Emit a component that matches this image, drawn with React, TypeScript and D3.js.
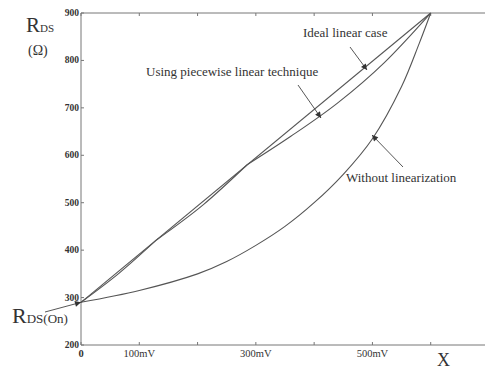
import React, { useEffect, useRef } from "react";
import * as d3 from "d3";

// x in mV, y in ohms
const idealX = [0, 600];
const idealY = [290, 900];

const piecewiseX = [0, 65, 130, 210, 285, 360, 440, 520, 600];
const piecewiseY = [290, 351, 422, 496, 580, 640, 710, 795, 900];
const breakpoints = [0, 130, 285, 600];

const withoutX = [0, 100, 200, 250, 300, 350, 400, 450, 500, 550, 580, 600];
const withoutY = [290, 315, 350, 376, 410, 450, 500, 560, 635, 745, 835, 900];

const yTicks = [200, 300, 400, 500, 600, 700, 800, 900];
const xTicks = [0, 100, 200, 300, 400, 500, 600];
const xTickLabels = ["0", "100mV", "", "300mV", "", "500mV", ""];

const W = 485;
const H = 371;
const SERIF = "'Liberation Serif', 'Times New Roman', Times, serif";

const App = () => {
  const ref = useRef<SVGSVGElement>(null);

  useEffect(() => {
    const svg = d3.select(ref.current);
    svg.selectAll("*").remove();

    const x = d3.scaleLinear().domain([0, 700]).range([81, 489]);
    const y = d3.scaleLinear().domain([200, 900]).range([345, 13]);
    const ink = "#555";
    const txt = "#333";

    const defs = svg.append("defs");
    defs
      .append("marker")
      .attr("id", "arr")
      .attr("viewBox", "0 0 10 10")
      .attr("refX", 10)
      .attr("refY", 5)
      .attr("markerWidth", 7)
      .attr("markerHeight", 6)
      .attr("markerUnits", "userSpaceOnUse")
      .attr("orient", "auto")
      .append("path")
      .attr("d", "M0,0 L10,5 L0,10 z")
      .attr("fill", "#333");

    // axes frame
    const frame = svg.append("g").attr("stroke", "#777").attr("stroke-width", 1);
    frame.append("line").attr("x1", 81).attr("x2", W).attr("y1", y(200)).attr("y2", y(200));
    frame.append("line").attr("x1", 81).attr("x2", W).attr("y1", y(900)).attr("y2", y(900));
    frame.append("line").attr("x1", 81).attr("x2", 81).attr("y1", y(200)).attr("y2", y(900));

    // ticks
    const tg = svg.append("g").attr("stroke", "#777");
    yTicks.forEach((t) => {
      tg.append("line").attr("x1", 81).attr("x2", 84).attr("y1", y(t)).attr("y2", y(t));
    });
    xTicks.forEach((t) => {
      tg.append("line").attr("x1", x(t)).attr("x2", x(t)).attr("y1", y(200)).attr("y2", y(200) - 3);
      tg.append("line").attr("x1", x(t)).attr("x2", x(t)).attr("y1", y(900)).attr("y2", y(900) + 3);
    });

    svg
      .append("g")
      .selectAll("text")
      .data(yTicks)
      .enter()
      .append("text")
      .attr("x", 79)
      .attr("y", (d) => y(d) + 3)
      .attr("text-anchor", "end")
      .attr("font-family", SERIF)
      .attr("font-weight", "bold")
      .attr("font-size", 9.5)
      .attr("fill", txt)
      .text((d) => d);

    svg
      .append("g")
      .selectAll("text")
      .data(xTicks)
      .enter()
      .append("text")
      .attr("x", (d) => x(d))
      .attr("y", 357)
      .attr("text-anchor", "middle")
      .attr("font-family", SERIF)
      .attr("font-weight", (d, i) => (i === 0 ? "bold" : "normal"))
      .attr("font-size", 10.5)
      .attr("fill", txt)
      .text((d, i) => xTickLabels[i]);

    // curves
    const line = d3
      .line<[number, number]>()
      .x((d) => x(d[0]))
      .y((d) => y(d[1]));
    const curves = svg.append("g").attr("fill", "none").attr("stroke", ink).attr("stroke-width", 1.1);

    curves.append("path").attr("d", line(idealX.map((v, i) => [v, idealY[i]])));

    for (let s = 0; s < breakpoints.length - 1; s++) {
      const pts = piecewiseX
        .map((v, i) => [v, piecewiseY[i]] as [number, number])
        .filter((p) => p[0] >= breakpoints[s] && p[0] <= breakpoints[s + 1]);
      curves.append("path").attr("d", line.curve(d3.curveMonotoneX)(pts));
    }

    curves
      .append("path")
      .attr("d", line.curve(d3.curveCatmullRom.alpha(0.5))(withoutX.map((v, i) => [v, withoutY[i]])));

    // annotations
    const ann = svg.append("g").attr("font-family", SERIF).attr("fill", txt);
    const arrows = svg.append("g").attr("stroke", "#444").attr("stroke-width", 0.9);

    ann.append("text").attr("x", 303).attr("y", 37).attr("font-size", 13).text("Ideal linear case");
    arrows.append("line").attr("x1", 350).attr("y1", 47).attr("x2", 367).attr("y2", 70).attr("marker-end", "url(#arr)");

    ann.append("text").attr("x", 146).attr("y", 76).attr("font-size", 13).text("Using piecewise linear technique");
    arrows.append("line").attr("x1", 298).attr("y1", 85).attr("x2", 321).attr("y2", 118).attr("marker-end", "url(#arr)");

    ann.append("text").attr("x", 346).attr("y", 182).attr("font-size", 13).text("Without linearization");
    arrows.append("line").attr("x1", 403).attr("y1", 167).attr("x2", 372).attr("y2", 135).attr("marker-end", "url(#arr)");

    // R_DS(On)
    const ron = ann.append("text").attr("x", 12).attr("y", 323);
    ron.append("tspan").attr("font-size", 22).text("R");
    ron.append("tspan").attr("font-size", 13).text("DS(On)");
    arrows.append("line").attr("x1", 45).attr("y1", 312).attr("x2", x(0)).attr("y2", y(290)).attr("marker-end", "url(#arr)");

    // y-axis title
    const rds = ann.append("text").attr("x", 26).attr("y", 32);
    rds.append("tspan").attr("font-size", 21).text("R");
    rds.append("tspan").attr("font-size", 11).text("DS");
    ann.append("text").attr("x", 28).attr("y", 55).attr("font-size", 14).text("(Ω)");

    // x-axis title
    ann.append("text").attr("x", 437).attr("y", 366).attr("font-size", 18).text("X");
  }, []);

  return (
    <svg
      ref={ref}
      width={W}
      height={H}
      style={{ position: "absolute", left: 0, top: 0, background: "#fff" }}
    ></svg>
  );
};

export default App;
